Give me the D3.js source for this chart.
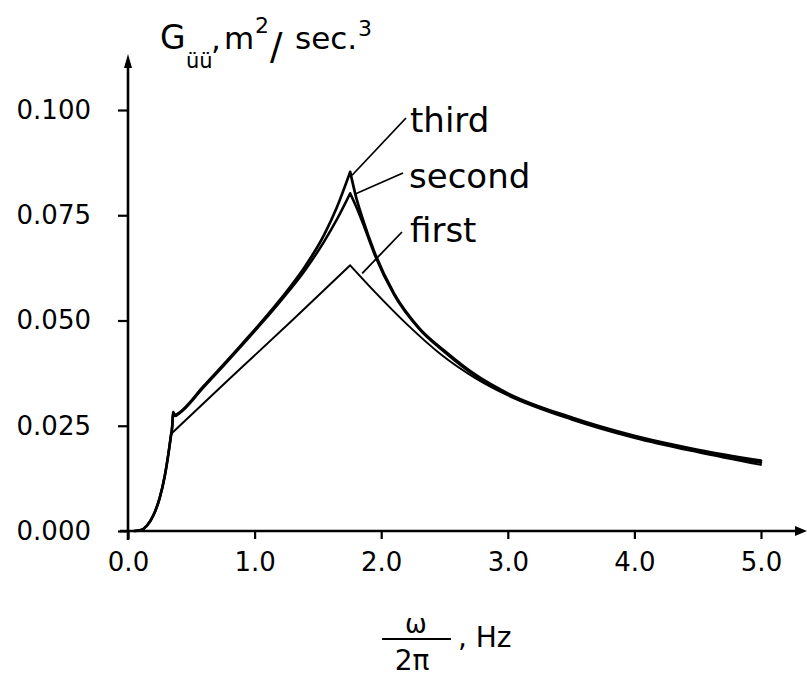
<!DOCTYPE html>
<html>
<head>
<meta charset="utf-8">
<script src="https://cdn.jsdelivr.net/npm/d3@7"></script>
<style>
  html, body { margin: 0; padding: 0; background: #fff; }
  svg { display: block; }
  text { font-family: "DejaVu Sans", sans-serif; fill: #000; }
</style>
</head>
<body>
<svg id="chart" width="807" height="676"></svg>
<script>
// ---- data ----
const xTicks = [0, 1, 2, 3, 4, 5];
const xTickLabels = ["0.0", "1.0", "2.0", "3.0", "4.0", "5.0"];
const yTicks = [0, 0.025, 0.05, 0.075, 0.1];
const yTickLabels = ["0.000", "0.025", "0.050", "0.075", "0.100"];

// common low-frequency rise (all three curves)
const riseFreq = [0.05, 0.10, 0.15, 0.20, 0.25, 0.29, 0.32, 0.34];
const riseG    = [0.0, 0.0002, 0.0013, 0.0037, 0.0078, 0.0130, 0.0185, 0.0228];

// first
const firstUpFreq   = [0.352, 0.8, 1.3, 1.755];
const firstUpG      = [0.0234, 0.0361, 0.0501, 0.0631];
const firstDownFreq = [1.755, 1.94, 2.2, 2.47, 2.75, 3.0, 3.5, 4.0, 4.5, 5.0];
const firstDownG    = [0.0631, 0.0571, 0.0492, 0.0420, 0.0362, 0.0322, 0.0265, 0.0221, 0.0187, 0.0157];

// second
const secondUpFreq   = [0.350, 0.356, 0.372, 0.40, 0.6, 0.9, 1.2, 1.4, 1.55, 1.65, 1.755];
const secondUpG      = [0.0250, 0.0280, 0.0273, 0.0278, 0.0342, 0.0441, 0.0544, 0.0620, 0.0688, 0.0740, 0.0802];
const secondDownFreq = [1.755, 1.8, 1.85, 1.95, 2.1, 2.3, 2.5, 2.75, 3.0, 3.5, 4.0, 4.5, 5.0];
const secondDownG    = [0.0802, 0.0772, 0.0735, 0.0655, 0.0562, 0.0480, 0.0425, 0.0367, 0.0325, 0.0268, 0.0223, 0.0190, 0.0162];

// third
const thirdUpFreq   = [0.350, 0.356, 0.372, 0.40, 0.6, 0.9, 1.2, 1.4, 1.55, 1.65, 1.755];
const thirdUpG      = [0.0252, 0.0283, 0.0275, 0.0280, 0.0345, 0.0444, 0.0549, 0.0629, 0.0704, 0.0769, 0.0853];
const thirdDownFreq = [1.755, 1.8, 1.85, 1.95, 2.1, 2.3, 2.5, 2.75, 3.0, 3.5, 4.0, 4.5, 5.0];
const thirdDownG    = [0.0853, 0.0795, 0.0745, 0.0660, 0.0565, 0.0482, 0.0428, 0.0370, 0.0327, 0.0270, 0.0226, 0.0193, 0.0167];

const seriesNames = ["first", "second", "third"];

// ---- build ----
const zip = (xs, ys) => xs.map((x, i) => [x, ys[i]]);
const rise = zip(riseFreq, riseG);
const riseEnd = rise[rise.length - 1];
const series = [
  { name: "first",  width: 2.0, upCurve: d3.curveLinear,
    up: [riseEnd].concat(zip(firstUpFreq, firstUpG)),   down: zip(firstDownFreq, firstDownG) },
  { name: "second", width: 2.5, upCurve: d3.curveMonotoneX,
    up: [riseEnd].concat(zip(secondUpFreq, secondUpG)), down: zip(secondDownFreq, secondDownG) },
  { name: "third",  width: 2.7, upCurve: d3.curveMonotoneX,
    up: [riseEnd].concat(zip(thirdUpFreq, thirdUpG)),   down: zip(thirdDownFreq, thirdDownG) }
];

const svg = d3.select("#chart");
const x = d3.scaleLinear().domain([0, 5]).range([128, 761]);
const y = d3.scaleLinear().domain([0, 0.1]).range([531, 110]);

// axes lines
const axisG = svg.append("g").attr("stroke", "#000").attr("stroke-width", 2.6).attr("fill", "none");
axisG.append("line").attr("x1", 120).attr("x2", 798).attr("y1", y(0)).attr("y2", y(0));
axisG.append("line").attr("x1", x(0)).attr("x2", x(0)).attr("y1", 540).attr("y2", 62);
// arrowheads
svg.append("path").attr("d", `M${x(0)},54 L${x(0) - 4},68 L${x(0) + 4},68 Z`).attr("fill", "#000");
svg.append("path").attr("d", `M807,${y(0)} L795,${y(0) - 5} L795,${y(0) + 5} Z`).attr("fill", "#000");

// x axis ticks via d3 axis
const xAxis = d3.axisBottom(x).tickValues(xTicks).tickSize(8).tickPadding(14)
  .tickFormat((d, i) => xTickLabels[i]);
const gx = svg.append("g").attr("transform", `translate(0,${y(0)})`).call(xAxis);
gx.select(".domain").remove();
gx.selectAll(".tick line").attr("stroke", "#000").attr("stroke-width", 2.2);
gx.selectAll(".tick text").attr("font-size", 26).attr("font-family", "DejaVu Sans").attr("fill", "#000");

const yAxis = d3.axisLeft(y).tickValues(yTicks).tickSize(10).tickPadding(27)
  .tickFormat((d, i) => yTickLabels[i]);
const gy = svg.append("g").attr("transform", `translate(${x(0)},0)`).call(yAxis);
gy.select(".domain").remove();
gy.selectAll(".tick line").attr("stroke", "#000").attr("stroke-width", 2.2);
gy.selectAll(".tick text").attr("font-size", 26).attr("font-family", "DejaVu Sans").attr("fill", "#000");

// curves
const lineFor = c => d3.line().x(d => x(d[0])).y(d => y(d[1])).curve(c);
const smooth = lineFor(d3.curveMonotoneX);
svg.append("g").selectAll("path").data(series).join("path")
  .attr("d", s => smooth(rise) + lineFor(s.upCurve)(s.up) + smooth(s.down))
  .attr("fill", "none").attr("stroke", "#000")
  .attr("stroke-width", s => s.width)
  .attr("stroke-linejoin", "round").attr("stroke-linecap", "round");

// labels with leader lines
const labels = [
  { name: "third",  tx: 410, ty: 132, lx1: 406, ly1: 118, lx2: x(1.77), ly2: y(0.0845) },
  { name: "second", tx: 409, ty: 188, lx1: 403, ly1: 173, lx2: x(1.79), ly2: y(0.080) },
  { name: "first",  tx: 410, ty: 242, lx1: 402, ly1: 232, lx2: x(1.85), ly2: y(0.0612) }
];
svg.append("g").selectAll("line").data(labels).join("line")
  .attr("x1", d => d.lx1).attr("y1", d => d.ly1).attr("x2", d => d.lx2).attr("y2", d => d.ly2)
  .attr("stroke", "#000").attr("stroke-width", 1.8);
svg.append("g").selectAll("text").data(labels).join("text")
  .attr("x", d => d.tx).attr("y", d => d.ty).attr("font-size", 34).text(d => d.name);

// y-axis title: G_üü, m²/ sec.³
const titleParts = [
  { t: "G",    x: 160, y: 49, s: 33 },
  { t: "üü",   x: 186, y: 68, s: 21 },
  { t: ",",    x: 211, y: 49, s: 31 },
  { t: "m",    x: 224, y: 49, s: 31 },
  { t: "2",    x: 255, y: 33, s: 22 },
  { t: "/",    x: 270, y: 59, s: 37 },
  { t: "sec.", x: 295, y: 49, s: 31 },
  { t: "3",    x: 358, y: 36, s: 22 }
];
svg.append("g").selectAll("text").data(titleParts).join("text")
  .attr("x", d => d.x).attr("y", d => d.y).attr("font-size", d => d.s).text(d => d.t);

// x-axis title: ω / 2π , Hz
svg.append("text").attr("x", 416).attr("y", 633).attr("text-anchor", "middle").attr("font-size", 26).text("ω");
svg.append("line").attr("x1", 382).attr("x2", 451).attr("y1", 639).attr("y2", 639)
  .attr("stroke", "#000").attr("stroke-width", 2);
svg.append("text").attr("x", 412).attr("y", 670).attr("text-anchor", "middle").attr("font-size", 28).text("2π");
svg.append("text").attr("x", 458).attr("y", 647).attr("font-size", 28).text(", Hz");
</script>
</body>
</html>
